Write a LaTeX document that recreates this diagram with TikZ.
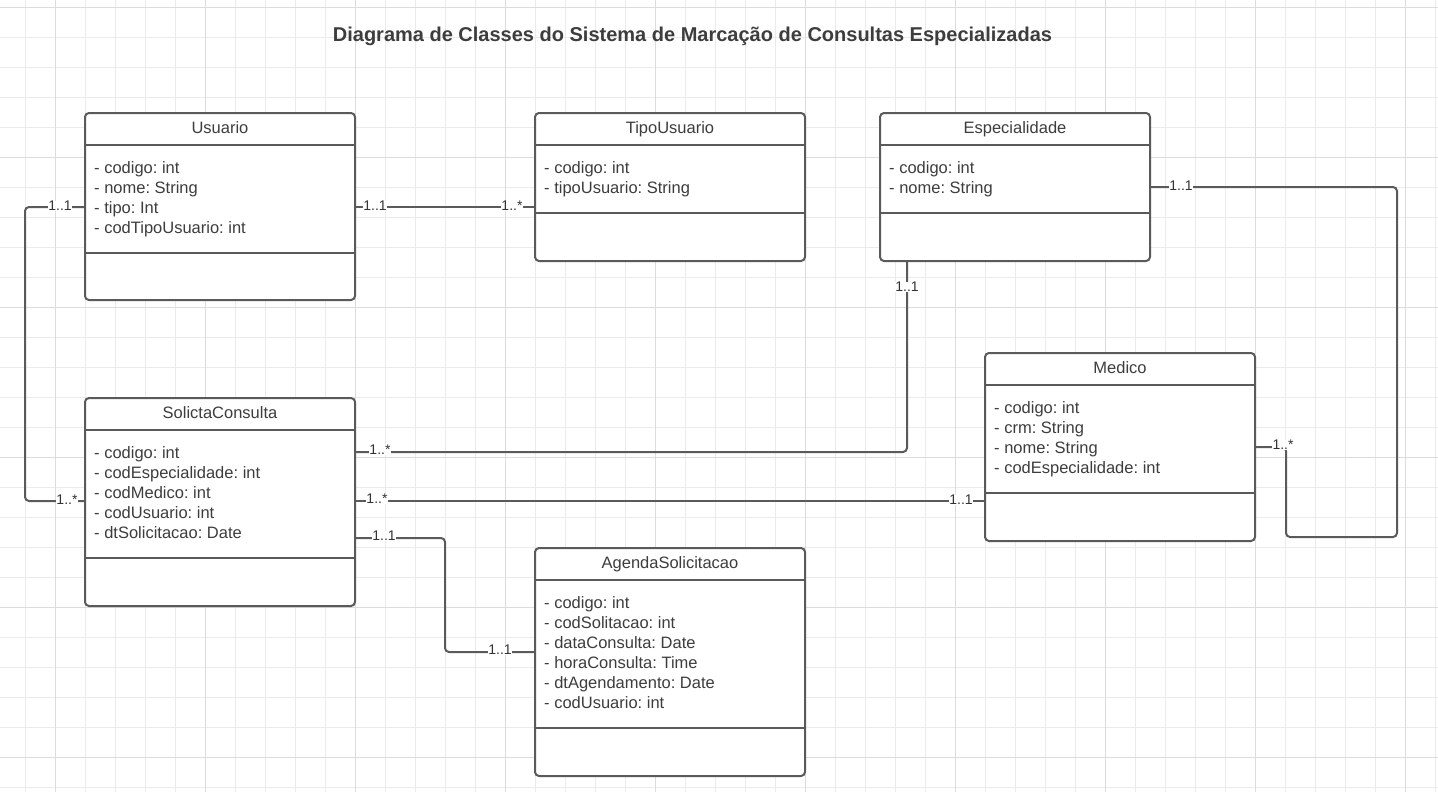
\documentclass[tikz,border=0pt]{standalone}
\usepackage{fontspec}
\setmainfont{Liberation Sans}
\usetikzlibrary{calc}
\frenchspacing
\definecolor{gridminor}{HTML}{EBEBEB}
\definecolor{gridmajor}{HTML}{DCDCDC}
\definecolor{stroke}{HTML}{5A5A5A}
\definecolor{txt}{HTML}{3D3D3D}
\definecolor{multtxt}{HTML}{333333}
\tikzset{
  classbox/.style={draw=stroke, line width=2pt, fill=white, rounded corners=4pt, anchor=north west, inner sep=0pt, outer sep=0pt, minimum width=270pt},
  boxline/.style={draw=stroke, line width=2pt},
  classname/.style={font=\fontsize{16.5}{20}\selectfont, text=txt, anchor=base, inner sep=0pt},
  attr/.style={font=\fontsize{16.5}{20}\selectfont, text=txt, anchor=base west, inner sep=0pt},
  conn/.style={draw=stroke, line width=2pt, rounded corners=4pt},
  mult/.style={font=\fontsize{14}{16}\selectfont, text=multtxt, fill=white, inner sep=0.6pt},
  diagtitle/.style={font=\bfseries\fontsize{20}{24}\selectfont, text=txt, anchor=base, inner sep=0pt},
  gridmin/.style={draw=gridminor, line width=1pt},
  gridmaj/.style={draw=gridmajor, line width=1pt},
}
% name, left, top, height, separator offset, title, attributes
\newcommand{\umlclass}[7]{%
  \node[classbox, minimum height=#4pt] (#1) at (#2,#3) {};
  \draw[boxline] ($(#1.north west)+(0,32)$) -- ($(#1.north east)+(0,32)$);
  \draw[boxline] ($(#1.north west)+(0,#5)$) -- ($(#1.north east)+(0,#5)$);
  \node[classname] (#1-name) at ($(#1.north)+(0,20)$) {#6};
  \foreach \txtitem [count=\i] in {#7} {
    \node[attr] (#1-a\i) at ($(#1.north west)+(9,40+20*\i)$) {\txtitem};
  }%
}
\begin{document}
\begin{tikzpicture}[x=1pt,y=-1pt]
\useasboundingbox (0,0) rectangle (1438,792);
\fill[white] (0,0) rectangle (1438,792);
% grid
\foreach \k in {0,...,48} { \draw[gridmin] ({-4.7+30*\k},0) -- ++(0,792); }
\foreach \k in {0,...,26} { \draw[gridmin] (0,{7.3+30*\k}) -- ++(1438,0); }
\foreach \k in {0,...,9} { \draw[gridmaj] ({55.3+150*\k},0) -- ++(0,792); }
\foreach \k in {0,...,5} { \draw[gridmaj] (0,{7.3+150*\k}) -- ++(1438,0); }

\node[diagtitle] (title) at (692.5,42) {Diagrama de Classes do Sistema de Marcação de Consultas Especializadas};

\umlclass{usuario}{85}{113}{187}{140}{Usuario}{- codigo: int, - nome: String, - tipo: Int, - codTipoUsuario: int}
\umlclass{tipo}{535}{113}{148}{100}{TipoUsuario}{- codigo: int, - tipoUsuario: String}
\umlclass{espec}{880}{113}{148}{100}{Especialidade}{- codigo: int, - nome: String}
\umlclass{solicita}{85}{398}{208}{160}{SolictaConsulta}{- codigo: int, - codEspecialidade: int, - codMedico: int, - codUsuario: int, - dtSolicitacao: Date}
\umlclass{medico}{985}{353}{188}{140}{Medico}{- codigo: int, - crm: String, - nome: String, - codEspecialidade: int}
\umlclass{agenda}{535}{548}{228}{180}{AgendaSolicitacao}{- codigo: int, - codSolitacao: int, - dataConsulta: Date, - horaConsulta: Time, - dtAgendamento: Date, - codUsuario: int}

% connectors
\draw[conn] ($(usuario.north west)+(0,94)$) -- ++(-60,0) |- ($(solicita.north west)+(0,103)$);
\draw[conn] ($(usuario.north east)+(0,94)$) -- ($(tipo.north west)+(0,94)$);
\draw[conn] ($(espec.south west)+(27,0)$) |- ($(solicita.north east)+(0,54)$);
\draw[conn] ($(solicita.north east)+(0,103)$) -- ($(medico.north west)+(0,148)$);
\draw[conn] ($(solicita.north east)+(0,140)$) -- ++(90,0) |- ($(agenda.north west)+(0,104)$);
\draw[conn] ($(medico.north east)+(0,94)$) -- ++(31,0) -- ++(0,90) -- ++(111,0) |- ($(espec.north east)+(0,74)$);

% multiplicities
\node[mult] (m1a) at ($(usuario.north west)+(-25,93)$) {1..1};
\node[mult] (m1b) at ($(solicita.north west)+(-18,102)$) {1..*};
\node[mult] (m2a) at ($(usuario.north east)+(20,93)$) {1..1};
\node[mult] (m2b) at ($(tipo.north west)+(-23,93)$) {1..*};
\node[mult] (m3a) at ($(espec.south west)+(27,26)$) {1..1};
\node[mult] (m3b) at ($(solicita.north east)+(25,52)$) {1..*};
\node[mult] (m4a) at ($(solicita.north east)+(22,101)$) {1..*};
\node[mult] (m4b) at ($(medico.north west)+(-24,147)$) {1..1};
\node[mult] (m5a) at ($(solicita.north east)+(29,138)$) {1..1};
\node[mult] (m5b) at ($(agenda.north west)+(-35,102)$) {1..1};
\node[mult] (m6a) at ($(medico.north east)+(28,92)$) {1..*};
\node[mult] (m6b) at ($(espec.north east)+(31,73)$) {1..1};
\end{tikzpicture}
\end{document}
